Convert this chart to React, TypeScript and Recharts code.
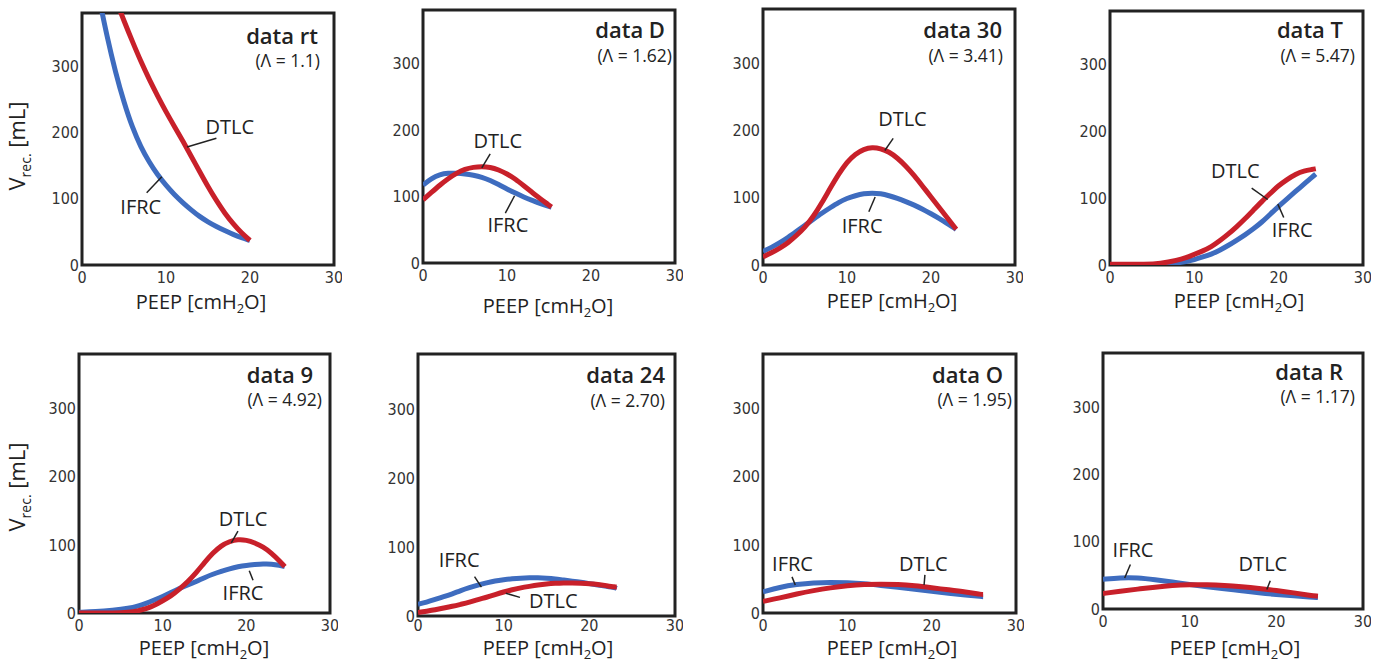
import React from 'react';
import { LineChart, Line, XAxis, YAxis, ReferenceArea, ReferenceLine, ReferenceDot } from 'recharts';

const FONT = "'Open Sans', 'Noto Sans', sans-serif";
const TICK_FONT = "'DejaVu Sans Condensed', 'Liberation Sans Narrow', 'DejaVu Sans', sans-serif";
const RED = '#c8202a';
const BLUE = '#3e6cbf';
const INK = '#222222';

const X_TICKS = [0, 10, 20, 30];
const Y_TICKS = [0, 100, 200, 300];
const X_MAX = 30;
const Y_MAX = 380;

const TITLES = ['data rt', 'data D', 'data 30', 'data T', 'data 9', 'data 24', 'data O', 'data R'];
const LAMBDAS = ['(Λ = 1.1)', '(Λ = 1.62)', '(Λ = 3.41)', '(Λ = 5.47)', '(Λ = 4.92)', '(Λ = 2.70)', '(Λ = 1.95)', '(Λ = 1.17)'];

// ---- data rt ----
const PEEP_RT = [2, 3, 4, 5, 6, 7, 8, 9, 10, 11, 12, 13, 14, 15, 16, 17, 18, 19, 20];
const IFRC_RT = [405, 343, 290, 245, 207, 178, 155, 136, 120, 106, 94, 83, 73, 65, 58, 52, 46, 41, 37];
const DTLC_RT = [470, 436, 401, 368, 337, 307, 280, 255, 231, 209, 187, 164, 141, 118, 97, 78, 62, 48, 37];

// ---- data D ----
const PEEP_D = [0, 1, 2, 3, 4, 5, 6, 7, 8, 9, 10, 11, 12, 13, 14, 15, 15.3];
const IFRC_D = [117, 127, 133, 135, 135, 134, 132, 129, 124, 118, 111, 105, 99, 94, 89, 85, 84];
const DTLC_D = [95, 106, 117, 127, 135, 141, 144, 145, 144, 140, 134, 126, 116, 106, 96, 87, 84];

// ---- data 30 ----
const PEEP_30 = [0, 1, 2, 3, 4, 5, 6, 7, 8, 9, 10, 11, 12, 13, 14, 15, 16, 17, 18, 19, 20, 21, 22, 23];
const IFRC_30 = [20, 26, 33, 41, 50, 59, 68, 77, 85, 93, 99, 103, 106, 107, 106, 103, 99, 94, 89, 83, 76, 69, 61, 53];
const DTLC_30 = [12, 18, 25, 33, 44, 56, 72, 92, 114, 135, 153, 165, 172, 175, 173, 168, 159, 147, 133, 117, 101, 85, 69, 53];

// ---- data T ----
const PEEP_T = [0, 2, 4, 6, 8, 9, 10, 11, 12, 13, 14, 15, 16, 17, 18, 19, 20, 21, 22, 23, 24, 24.4];
const IFRC_T = [0, 0, 0, 1, 3, 5, 8, 12, 16, 22, 29, 37, 45, 54, 64, 76, 88, 99, 110, 121, 132, 136];
const DTLC_T = [1, 1, 1, 2, 7, 11, 16, 21, 27, 36, 46, 57, 69, 82, 95, 107, 119, 128, 136, 141, 143, 144];

// ---- data 9 ----
const PEEP_9 = [0, 2, 4, 6, 7, 8, 9, 10, 11, 12, 13, 14, 15, 16, 17, 18, 19, 20, 21, 22, 23, 24, 24.6];
const IFRC_9 = [1, 2, 4, 7, 10, 14, 19, 24, 30, 36, 41, 46, 52, 57, 61, 65, 68, 70, 71, 72, 72, 70, 68];
const DTLC_9 = [0, 0, 0, 1, 3, 6, 11, 18, 25, 35, 46, 59, 74, 88, 99, 105, 108, 107, 103, 97, 88, 76, 68];

// ---- data 24 ----
const PEEP_24 = [0, 1, 2, 3, 4, 5, 6, 7, 8, 9, 10, 11, 12, 13, 14, 15, 16, 17, 18, 19, 20, 21, 22, 23, 23.2];
const IFRC_24 = [17, 20, 24, 28, 32, 37, 41, 45, 48, 51, 52.5, 54, 55, 55.5, 55.5, 55, 54, 52, 50.5, 49, 47, 45, 43, 41, 40];
const DTLC_24 = [5, 7, 9, 11.5, 14, 17, 20, 24, 27, 31, 35, 38, 41, 43, 45, 46.5, 47.5, 48, 48, 47.5, 47, 46, 44, 42, 42];

// ---- data O ----
const PEEP_O = [0, 2, 4, 6, 8, 10, 12, 14, 16, 18, 20, 22, 24, 26, 26.1];
const IFRC_O = [31, 38, 42, 44.5, 45, 44.5, 43, 40.5, 38, 35, 32, 29, 26.5, 24, 24];
const DTLC_O = [17, 22, 28, 33, 37, 40, 42, 42.5, 42, 40, 37, 34, 31, 27, 27];

// ---- data R ----
const PEEP_R = [0, 2, 4, 6, 8, 10, 12, 14, 16, 18, 20, 22, 24, 24.8];
const IFRC_R = [44, 46.5, 46.5, 43.5, 40, 36.5, 33, 30, 27, 24, 21.5, 19.5, 17.5, 17];
const DTLC_R = [23, 26.5, 29.5, 32.5, 35, 36, 36, 35, 33, 30.5, 27.5, 24, 20, 19];

// curve annotations in data units: label centre (x, y) and leader line (x1,y1)-(x2,y2)
const NOTES_RT = [
  { text: 'DTLC', x: 17.6, y: 208, x1: 12.5, y1: 178, x2: 16.0, y2: 191 },
  { text: 'IFRC', x: 7.0, y: 88, x1: 7.7, y1: 109, x2: 9.5, y2: 133 },
];
const NOTES_D = [
  { text: 'DTLC', x: 8.9, y: 184, x1: 7.0, y1: 143, x2: 8.0, y2: 164 },
  { text: 'IFRC', x: 10.1, y: 57, x1: 9.8, y1: 75, x2: 10.9, y2: 101 },
];
const NOTES_30 = [
  { text: 'DTLC', x: 16.6, y: 217, x1: 14.5, y1: 170, x2: 15.5, y2: 188 },
  { text: 'IFRC', x: 11.8, y: 58, x1: 12.6, y1: 79, x2: 13.35, y2: 101 },
];
const NOTES_T = [
  { text: 'DTLC', x: 14.85, y: 141, x1: 16.8, y1: 115, x2: 18.7, y2: 98 },
  { text: 'IFRC', x: 21.6, y: 53, x1: 20.6, y1: 71, x2: 19.9, y2: 91 },
];
const NOTES_9 = [
  { text: 'DTLC', x: 19.6, y: 138, x1: 18.2, y1: 103, x2: 19.0, y2: 120 },
  { text: 'IFRC', x: 19.6, y: 30, x1: 20.8, y1: 48, x2: 20.35, y2: 62 },
];
const NOTES_24 = [
  { text: 'IFRC', x: 4.8, y: 82, x1: 6.6, y1: 57, x2: 7.4, y2: 42 },
  { text: 'DTLC', x: 15.8, y: 22, x1: 11.9, y1: 27, x2: 10.25, y2: 33 },
];
const NOTES_O = [
  { text: 'IFRC', x: 3.5, y: 72, x1: 3.44, y1: 53, x2: 3.83, y2: 41 },
  { text: 'DTLC', x: 19.0, y: 72, x1: 19.2, y1: 56, x2: 19.1, y2: 41 },
];
const NOTES_R = [
  { text: 'IFRC', x: 3.46, y: 87, x1: 2.5, y1: 46, x2: 3.16, y2: 66 },
  { text: 'DTLC', x: 18.45, y: 67, x1: 18.9, y1: 29, x2: 19.3, y2: 42 },
];

const zip = (xs: number[], a: number[], b: number[]) => xs.map((x, i) => ({ x, ifrc: a[i], dtlc: b[i] }));

const SERIES = [
  { rows: zip(PEEP_RT, IFRC_RT, DTLC_RT), notes: NOTES_RT },
  { rows: zip(PEEP_D, IFRC_D, DTLC_D), notes: NOTES_D },
  { rows: zip(PEEP_30, IFRC_30, DTLC_30), notes: NOTES_30 },
  { rows: zip(PEEP_T, IFRC_T, DTLC_T), notes: NOTES_T },
  { rows: zip(PEEP_9, IFRC_9, DTLC_9), notes: NOTES_9 },
  { rows: zip(PEEP_24, IFRC_24, DTLC_24), notes: NOTES_24 },
  { rows: zip(PEEP_O, IFRC_O, DTLC_O), notes: NOTES_O },
  { rows: zip(PEEP_R, IFRC_R, DTLC_R), notes: NOTES_R },
];

// layout: plot box (L,T,R,B), x tick margin and text anchors, page pixels
const LAYOUT = [
  { L: 82, T: 13, R: 334, B: 265, tm: 7, tx: 318, ty: 44, sx: 320, sy: 67, lx: 201, ly: 309, yl: { x: 25, y: 146 } },
  { L: 423, T: 10, R: 675, B: 263, tm: 7, tx: 665, ty: 38, sx: 672, sy: 62, lx: 548, ly: 313 },
  { L: 763, T: 9, R: 1015, B: 265, tm: 7, tx: 1002, ty: 38, sx: 1003, sy: 62, lx: 892, ly: 308 },
  { L: 1110, T: 11, R: 1363, B: 265, tm: 7, tx: 1343, ty: 38, sx: 1355, sy: 62, lx: 1239, ly: 308 },
  { L: 79, T: 354, R: 330, B: 613, tm: 7, tx: 313, ty: 383, sx: 322, sy: 406, lx: 204, ly: 655, yl: { x: 25, y: 487 } },
  { L: 418, T: 354, R: 675, B: 616, tm: 4, tx: 665, ty: 383, sx: 665, sy: 407, lx: 548, ly: 655 },
  { L: 763, T: 354, R: 1016, B: 613, tm: 7, tx: 1003, ty: 383, sx: 1012, sy: 406, lx: 892, ly: 655 },
  { L: 1103, T: 353, R: 1363, B: 609, tm: 7, tx: 1343, ty: 380, sx: 1355, sy: 403, lx: 1235, ly: 655 },
];

const PAD_L = 60;
const PAD_T = 8;
const PAD_R = 8;
const PAD_B = 30;

const tickStyle = { fontFamily: TICK_FONT, fontSize: 16, fill: '#333' };

function Panel({ idx }: { idx: number }) {
  const lay = LAYOUT[idx];
  const { rows, notes } = SERIES[idx];
  const w = lay.R - lay.L + PAD_L + PAD_R;
  const h = lay.B - lay.T + PAD_T + PAD_B;
  return (
    <div style={{ position: 'absolute', left: lay.L - PAD_L, top: lay.T - PAD_T, width: w, height: h }}>
      <LineChart width={w} height={h} data={rows} margin={{ top: PAD_T, right: PAD_R, left: 0, bottom: 0 }}>
        <XAxis
          type="number"
          dataKey="x"
          domain={[0, X_MAX]}
          ticks={X_TICKS}
          interval={0}
          axisLine={false}
          tickLine={false}
          tickSize={0}
          tickMargin={lay.tm}
          height={PAD_B}
          tick={tickStyle}
          allowDataOverflow
        />
        <YAxis
          type="number"
          domain={[0, Y_MAX]}
          ticks={Y_TICKS}
          interval={0}
          axisLine={false}
          tickLine={false}
          tickSize={0}
          tickMargin={3}
          width={PAD_L}
          tick={tickStyle}
          allowDataOverflow
        />
        <Line type="basis" dataKey="ifrc" stroke={BLUE} strokeWidth={5} dot={false} isAnimationActive={false} />
        <Line type="basis" dataKey="dtlc" stroke={RED} strokeWidth={5} dot={false} isAnimationActive={false} />
        {notes.map((n, i) => (
          <ReferenceLine
            key={'l' + i}
            segment={[{ x: n.x1, y: n.y1 }, { x: n.x2, y: n.y2 }]}
            stroke={INK}
            strokeWidth={1.5}
          />
        ))}
        {notes.map((n, i) => (
          <ReferenceDot
            key={'t' + i}
            x={n.x}
            y={n.y}
            r={0}
            fill="none"
            stroke="none"
            label={{ value: n.text, position: 'center', fill: INK, fontSize: 20, fontFamily: FONT }}
          />
        ))}
        <ReferenceArea x1={0} x2={X_MAX} y1={0} y2={Y_MAX} fill="none" stroke={INK} strokeWidth={3} ifOverflow="visible" />
      </LineChart>
    </div>
  );
}

function Overlay() {
  return (
    <svg width={1384} height={662} style={{ position: 'absolute', left: 0, top: 0, pointerEvents: 'none' }}>
      {LAYOUT.map((lay, i) => (
        <g key={i} fontFamily={FONT} fill={INK}>
          <text x={lay.tx} y={lay.ty} textAnchor="end" fontSize={22} fontWeight={600}>
            {TITLES[i]}
          </text>
          <text x={lay.sx} y={lay.sy} textAnchor="end" fontSize={17.5}>
            {LAMBDAS[i]}
          </text>
          <text x={lay.lx} y={lay.ly} textAnchor="middle" fontSize={20}>
            PEEP [cmH
            <tspan dy={4} fontSize={13}>
              2
            </tspan>
            <tspan dy={-4}>O]</tspan>
          </text>
          {lay.yl && (
            <text transform={`translate(${lay.yl.x},${lay.yl.y}) rotate(-90)`} textAnchor="middle" fontSize={22}>
              V
              <tspan dy={6} fontSize={14}>
                rec.
              </tspan>
              <tspan dy={-6}> [mL]</tspan>
            </text>
          )}
        </g>
      ))}
    </svg>
  );
}

export default function App() {
  return (
    <div style={{ position: 'absolute', left: 0, top: 0, width: 1384, height: 662, background: '#fff', overflow: 'hidden' }}>
      {LAYOUT.map((_, i) => (
        <Panel key={i} idx={i} />
      ))}
      <Overlay />
    </div>
  );
}
